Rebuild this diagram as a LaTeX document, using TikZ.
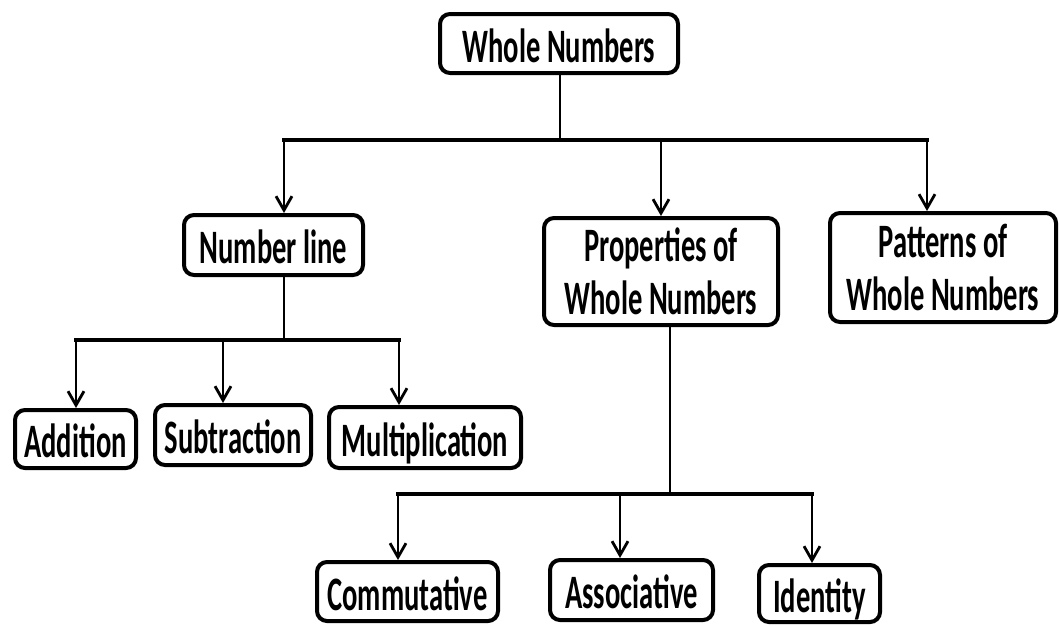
\documentclass[tikz,border=0pt]{standalone}
\usepackage{fontspec}
\usetikzlibrary{arrows.meta}
\newfontfamily\boxfont{Carlito}[FakeStretch=0.595]

\tikzset{
  box/.style={draw, line width=4pt, rounded corners=10pt, fill=white,
    inner sep=0pt, align=center,
    font=\boxfont\bfseries\fontsize{48}{53}\selectfont},
  onebox/.style={box, text height=37pt, text depth=0pt},
  conn/.style={line width=2.8pt},
  bar/.style={line width=4pt, line cap=rect},
  arr/.style={conn, -{Straight Barb[length=14pt,width=16pt,line width=2.8pt]}},
}

\begin{document}
\begin{tikzpicture}[x=1pt, y=-1pt]
\useasboundingbox (0,0) rectangle (1059,625);

% top level
\node[onebox, minimum width=238pt, minimum height=59pt] (whole) at (559,43.5) {Whole Numbers};

% second level
\node[onebox, minimum width=179pt, minimum height=60pt] (numline) at (273.5,245) {Number line};
\node[box, minimum width=234pt, minimum height=107pt] (props) at (661,271.5) {Properties of\\Whole Numbers};
\node[box, minimum width=226pt, minimum height=109pt] (patterns) at (943,267.5) {Patterns of\\Whole Numbers};

% operations on the number line
\node[onebox, minimum width=121pt, minimum height=58pt] (add) at (75.5,439) {Addition};
\node[onebox, minimum width=156pt, minimum height=60pt] (sub) at (233,435) {Subtraction};
\node[onebox, minimum width=192pt, minimum height=61pt] (mul) at (425,437.5) {Multiplication};

% properties
\node[onebox, minimum width=181pt, minimum height=59pt] (comm) at (407.5,591.5) {Commutative};
\node[onebox, minimum width=163pt, minimum height=60pt] (assoc) at (631.5,590) {Associative};
\node[onebox, minimum width=121pt, minimum height=57pt] (ident) at (819.5,593.5) {Identity};

% branch points
\coordinate (t0) at (560,140);
\coordinate (t1) at (284,140);
\coordinate (t2) at (661,140);
\coordinate (t3) at (927,140);

\coordinate (n0) at (284,340);
\coordinate (n1) at (76,340);
\coordinate (n2) at (223,340);
\coordinate (n3) at (399,340);

\coordinate (p0) at (670,494);
\coordinate (p1) at (398,494);
\coordinate (p2) at (620,494);
\coordinate (p3) at (812,494);

% whole numbers -> second level
\draw[conn] (whole.south -| t0) -- (t0);
\draw[bar] (t1) -- (t3);
\draw[arr] (t1) -- (t1 |- numline.north);
\draw[arr] (t2) -- (t2 |- props.north);
\draw[arr] (t3) -- (t3 |- patterns.north);

% number line -> operations
\draw[conn] (numline.south -| n0) -- (n0);
\draw[bar] (n1) -- (n3);
\draw[arr] (n1) -- (n1 |- add.north);
\draw[arr] (n2) -- (n2 |- sub.north);
\draw[arr] (n3) -- (n3 |- mul.north);

% properties -> kinds
\draw[conn] (props.south -| p0) -- (p0);
\draw[bar] (p1) -- (p3);
\draw[arr] (p1) -- (p1 |- comm.north);
\draw[arr] (p2) -- (p2 |- assoc.north);
\draw[arr] (p3) -- (p3 |- ident.north);
\end{tikzpicture}
\end{document}
